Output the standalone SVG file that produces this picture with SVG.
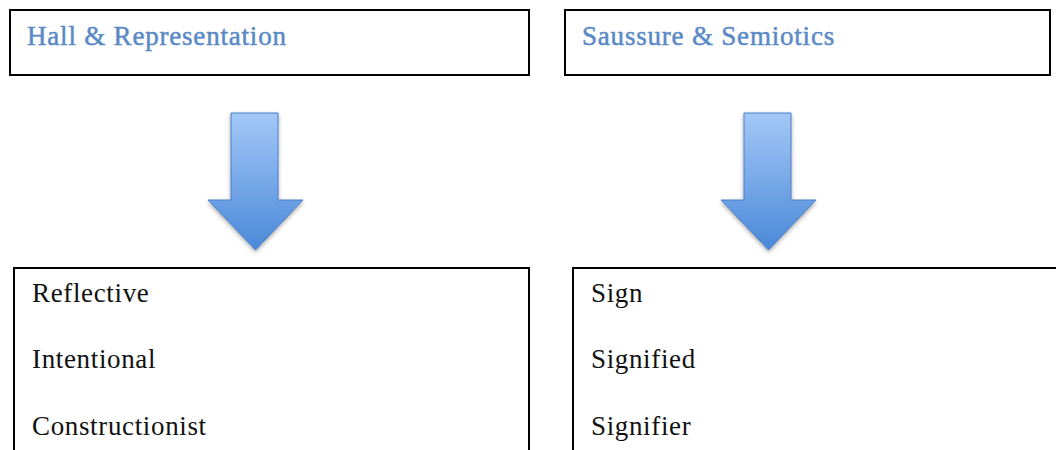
<svg xmlns="http://www.w3.org/2000/svg" width="1056" height="450" viewBox="0 0 1056 450">
<style>
.box{fill:#fff;stroke:#000;stroke-width:2}
.title{font-family:"Liberation Serif",serif;font-size:27px;letter-spacing:0.8px;fill:#5A8AC6;stroke:#5A8AC6;stroke-width:0.5}
.item{font-family:"Liberation Serif",serif;font-size:27px;letter-spacing:0.65px;fill:#111}
.arrow{fill:url(#ag);stroke:#4A7FC8;stroke-width:1}
</style>
<defs>
<linearGradient id="ag" x1="0" y1="0" x2="0" y2="1">
<stop offset="0" stop-color="#A3C8F7"/>
<stop offset="1" stop-color="#4A88D8"/>
</linearGradient>
<filter id="sh" x="-20%" y="-20%" width="140%" height="140%">
<feGaussianBlur in="SourceAlpha" stdDeviation="2"/>
<feOffset dx="0" dy="2" result="b"/>
<feComponentTransfer><feFuncA type="linear" slope="0.35"/></feComponentTransfer>
<feMerge><feMergeNode/><feMergeNode in="SourceGraphic"/></feMerge>
</filter>
</defs>
<rect width="1056" height="450" fill="#fff"/>
<g id="hall">
<rect class="box" x="10" y="10" width="519" height="65"/>
<text class="title" x="27" y="45">Hall &amp; Representation</text>
</g>
<g id="saussure">
<rect class="box" x="565" y="10" width="485" height="65"/>
<text class="title" x="582" y="45">Saussure &amp; Semiotics</text>
</g>
<g id="connectors">
<path class="arrow" filter="url(#sh)" d="M231,113 H278 V200 H303 L255.5,250 L208,200 H231 Z"/>
<path class="arrow" filter="url(#sh)" d="M744,113 H791 V200 H816 L768.5,250 L721,200 H744 Z"/>
</g>
<g id="hall-list">
<rect class="box" x="14" y="268" width="515" height="200"/>
<text class="item" x="32" y="302">Reflective</text>
<text class="item" x="32" y="368">Intentional</text>
<text class="item" x="32" y="435">Constructionist</text>
</g>
<g id="saussure-list">
<rect class="box" x="573" y="268" width="500" height="200"/>
<text class="item" x="591" y="302">Sign</text>
<text class="item" x="591" y="368">Signified</text>
<text class="item" x="591" y="435">Signifier</text>
</g>
</svg>
